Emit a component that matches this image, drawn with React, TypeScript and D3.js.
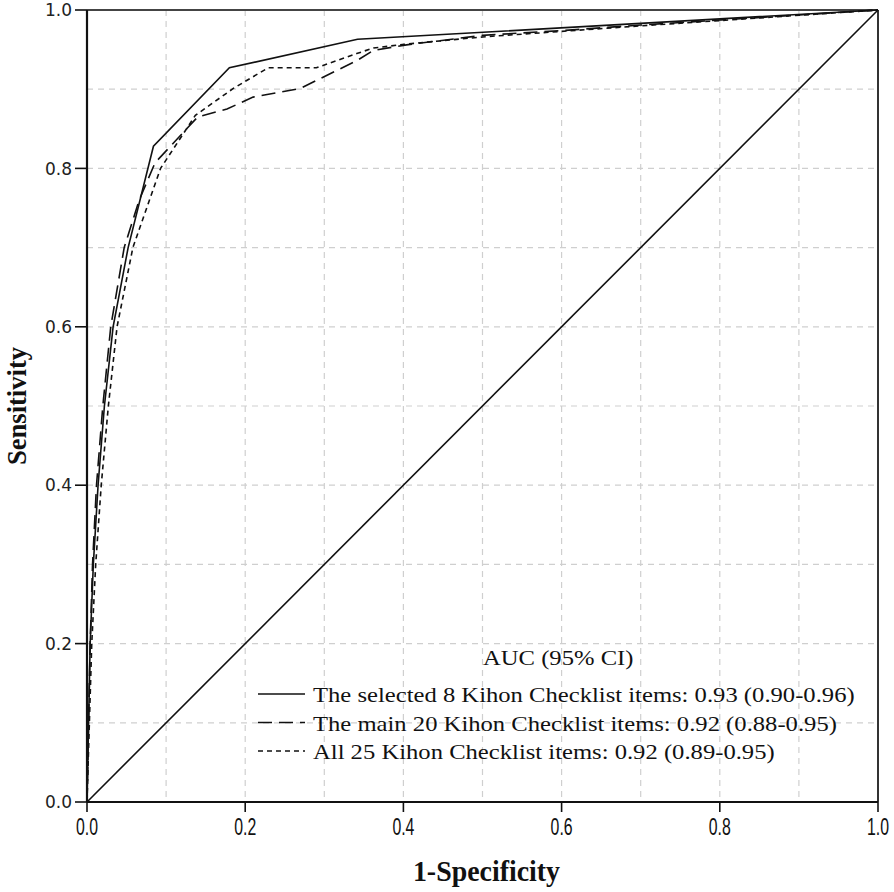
import React from "react";
import * as d3 from "d3";

const selected8X = [0, 0.002, 0.004, 0.008, 0.014, 0.022, 0.033, 0.052, 0.084, 0.18, 0.342, 1];
const selected8Y = [0, 0.1, 0.2, 0.3, 0.4, 0.5, 0.6, 0.7, 0.828, 0.927, 0.963, 1];

const main20X = [0, 0.002, 0.004, 0.007, 0.012, 0.02, 0.03, 0.047, 0.066, 0.086, 0.126, 0.14, 0.177, 0.21, 0.27, 0.286, 0.341, 0.362, 0.404, 0.5, 0.6, 0.7, 1];
const main20Y = [0, 0.1, 0.2, 0.3, 0.4, 0.5, 0.6, 0.7, 0.76, 0.807, 0.85, 0.865, 0.875, 0.89, 0.901, 0.909, 0.936, 0.949, 0.956, 0.968, 0.974, 0.981, 1];

const all25X = [0, 0.003, 0.006, 0.011, 0.018, 0.027, 0.038, 0.058, 0.093, 0.137, 0.185, 0.229, 0.29, 0.341, 0.362, 0.404, 0.5, 0.6, 0.7, 1];
const all25Y = [0, 0.1, 0.2, 0.3, 0.4, 0.5, 0.6, 0.7, 0.8, 0.867, 0.901, 0.927, 0.927, 0.945, 0.952, 0.957, 0.966, 0.973, 0.98, 1];

const refX = [0, 1];
const refY = [0, 1];

const tickValues = [0, 0.2, 0.4, 0.6, 0.8, 1.0];
const gridValues = [0.1, 0.2, 0.3, 0.4, 0.5, 0.6, 0.7, 0.8, 0.9];

const legendTitle = "AUC (95% CI)";
const seriesLabels = [
  "The selected 8 Kihon Checklist items: 0.93 (0.90-0.96)",
  "The main 20 Kihon Checklist items: 0.92 (0.88-0.95)",
  "All 25 Kihon Checklist items: 0.92 (0.89-0.95)",
];
const seriesDash = ["none", "14,7", "5,4"];

const W = 894;
const H = 892;
const L = 87, R = 878, T = 10, B = 802;

export default function App() {
  const x = d3.scaleLinear().domain([0, 1]).range([L, R]);
  const y = d3.scaleLinear().domain([0, 1]).range([B, T]);
  const line = d3.line<[number, number]>().x((d) => x(d[0])).y((d) => y(d[1]));
  const series = [
    selected8X.map((v, i) => [v, selected8Y[i]] as [number, number]),
    main20X.map((v, i) => [v, main20Y[i]] as [number, number]),
    all25X.map((v, i) => [v, all25Y[i]] as [number, number]),
  ];
  const diag = refX.map((v, i) => [v, refY[i]] as [number, number]);
  const fmt = d3.format(".1f");
  const serif = "'Liberation Serif', 'Times New Roman', serif";

  return (
    <svg width={W} height={H} style={{ position: "absolute", left: 0, top: 0, background: "#fff" }}>
      <rect x={0} y={0} width={W} height={H} fill="#fff" />
      {/* grid */}
      {gridValues.map((g) => (
        <line key={"gx" + g} x1={x(g)} x2={x(g)} y1={T} y2={B} stroke="#cfcfcf" strokeWidth={1.2} strokeDasharray="6,5" />
      ))}
      {gridValues.map((g) => (
        <line key={"gy" + g} x1={L} x2={R} y1={y(g)} y2={y(g)} stroke="#cfcfcf" strokeWidth={1.2} strokeDasharray="6,5" />
      ))}
      {/* frame */}
      <line x1={L} x2={R} y1={T} y2={T} stroke="#444" strokeWidth={2} />
      <line x1={R} x2={R} y1={T} y2={B} stroke="#333" strokeWidth={2} />
      {/* diagonal */}
      <path d={line(diag) || ""} fill="none" stroke="#111" strokeWidth={1.6} />
      {/* curves */}
      {series.map((s, i) => (
        <path key={i} d={line(s) || ""} fill="none" stroke="#111" strokeWidth={1.6}
          strokeDasharray={seriesDash[i] === "none" ? undefined : seriesDash[i]} />
      ))}
      {/* axes */}
      <line x1={L} x2={L} y1={T} y2={B} stroke="#111" strokeWidth={2.2} />
      <line x1={L} x2={R} y1={B} y2={B} stroke="#111" strokeWidth={2.2} />
      {tickValues.map((t) => (
        <g key={"yt" + t}>
          <line x1={L - 12} x2={L} y1={y(t)} y2={y(t)} stroke="#111" strokeWidth={1.6} />
          <text x={L - 15} y={y(t)} dy="0.36em" textAnchor="end" fontFamily="'DejaVu Sans', sans-serif" fontSize={17} fill="#222">{fmt(t)}</text>
        </g>
      ))}
      {tickValues.map((t) => (
        <g key={"xt" + t}>
          <line x1={x(t)} x2={x(t)} y1={B} y2={B + 10} stroke="#111" strokeWidth={1.6} />
          <text transform={`translate(${x(t)},${B + 33}) scale(0.66,1)`} textAnchor="middle" fontFamily="'Liberation Sans', Arial, sans-serif" fontSize={24} fill="#111">{fmt(t)}</text>
        </g>
      ))}
      {/* axis titles */}
      <text transform={`translate(${(L + R) / 2 + 4},${881}) scale(0.93,1)`} textAnchor="middle" fontFamily={serif} fontWeight="bold" fontSize={30} fill="#111">1-Specificity</text>
      <text transform={`translate(26,${(T + B) / 2}) rotate(-90) scale(0.95,1)`} textAnchor="middle" fontFamily={serif} fontWeight="bold" fontSize={28} fill="#111">Sensitivity</text>
      {/* legend */}
      <text transform={`translate(483,665) scale(1.12,1)`} fontFamily={serif} fontSize={22} fill="#111">{legendTitle}</text>
      {seriesLabels.map((lab, i) => (
        <g key={"lg" + i}>
          <line x1={258} x2={305} y1={694 + i * 28.5} y2={694 + i * 28.5} stroke="#111" strokeWidth={1.6}
            strokeDasharray={seriesDash[i] === "none" ? undefined : seriesDash[i]} />
          <text transform={`translate(313,${702 + i * 28.5}) scale(1.12,1)`} fontFamily={serif} fontSize={22} fill="#111">{lab}</text>
        </g>
      ))}
    </svg>
  );
}
